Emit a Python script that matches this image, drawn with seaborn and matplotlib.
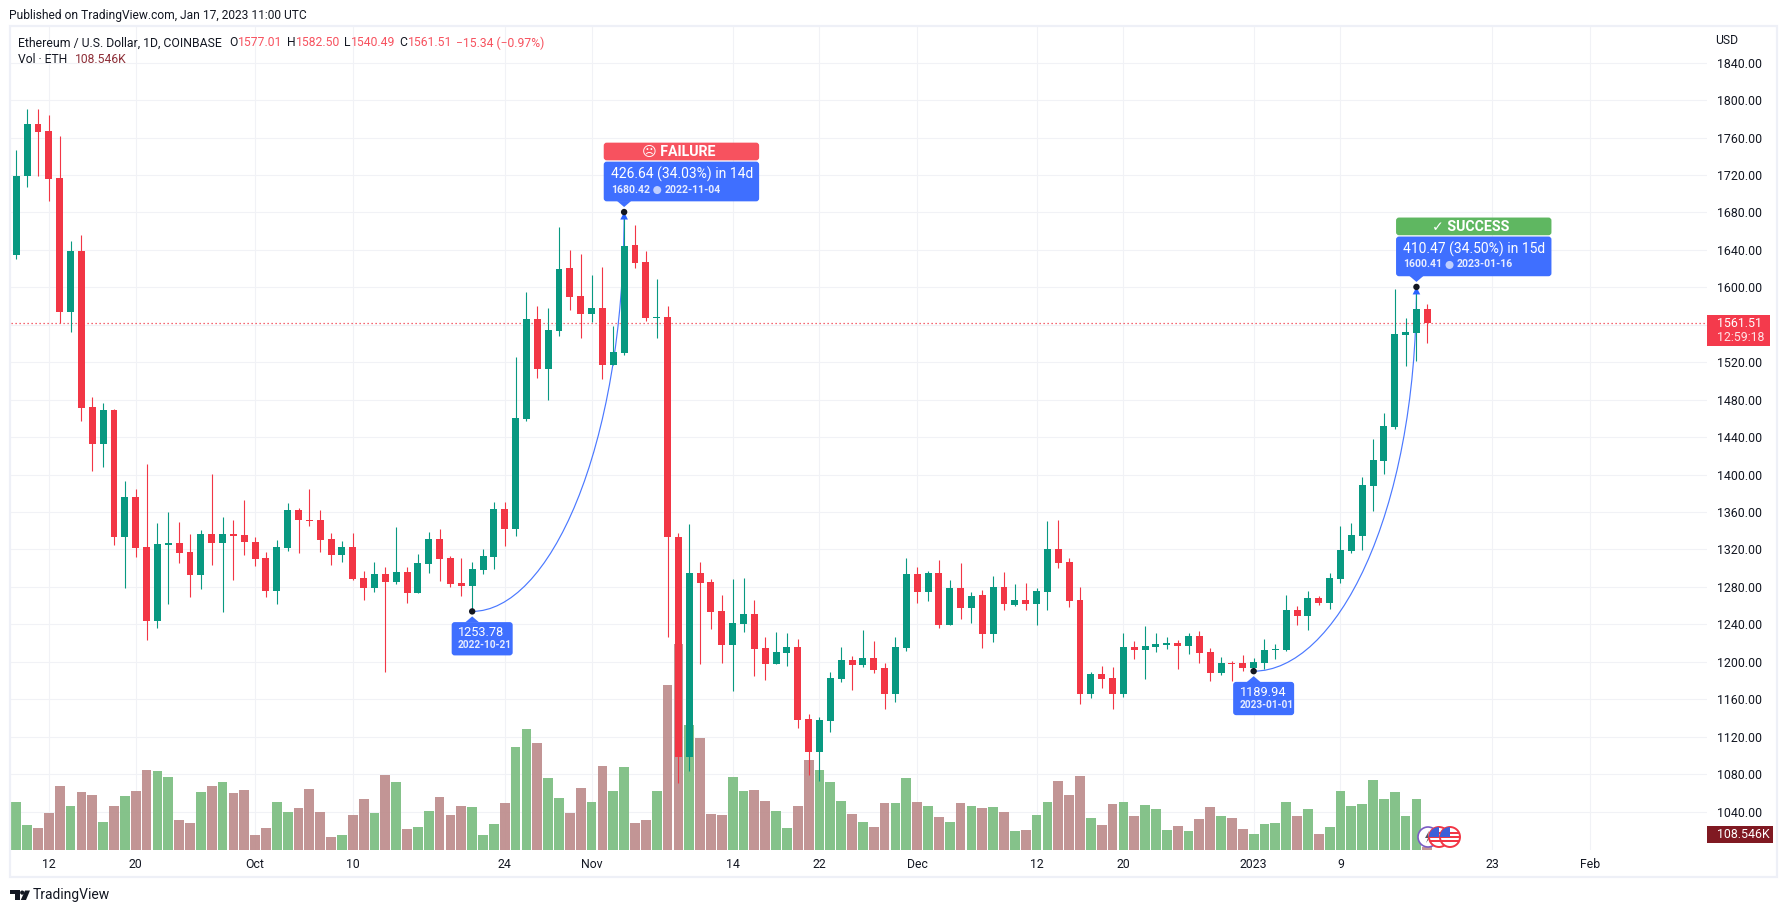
import pandas as pd
import seaborn as sns
import matplotlib.pyplot as plt
from matplotlib.patches import Circle, FancyBboxPatch, PathPatch, Polygon, Rectangle
from matplotlib.path import Path

# --- Data ---
start_date = '2022-09-09'
open_prices = [
    1634.6, 1719, 1774.5, 1767, 1717, 1573.7, 1639, 1472, 1432.6, 1469,
    1333, 1376, 1322.5, 1243.5, 1325, 1327, 1317, 1292.7, 1336.5, 1327,
    1336.5, 1335, 1328, 1311, 1275.6, 1321.5, 1362, 1351, 1351, 1331,
    1314, 1322.6, 1289.5, 1278.8, 1293.7, 1285, 1296, 1273.4, 1304.4, 1331,
    1311, 1284, 1281, 1298, 1312, 1363, 1342, 1459.4, 1566, 1512.8,
    1553.4, 1620.7, 1590.7, 1571.5, 1578, 1517, 1530, 1645, 1627, 1567,
    1568.7, 1333, 1098, 1294.8, 1285, 1254, 1218, 1240, 1251, 1214.7,
    1197.6, 1209, 1215.7, 1138.8, 1103.6, 1136.7, 1181.5, 1202, 1196.5, 1204,
    1193, 1165.5, 1214.7, 1293.7, 1274.5, 1294.8, 1239, 1278.8, 1257.4, 1271,
    1229.6, 1280, 1260.6, 1266, 1261.7, 1274.5, 1320, 1306.6, 1266, 1165.5,
    1187, 1182.6, 1165.5, 1215.7, 1212.5, 1215.7, 1218, 1220, 1216.8, 1227.5,
    1210.4, 1188, 1198.7, 1198.7, 1193.5, 1198.7, 1212.5, 1212.5, 1255, 1249,
    1268, 1262.8, 1288, 1318, 1334, 1388, 1414.5, 1451, 1549, 1551, 1577.01,
]
high_prices = [
    1746.7, 1790.5, 1790.5, 1784, 1761.6, 1649.5, 1656, 1482.8, 1476, 1470,
    1393, 1384.5, 1411, 1348, 1360, 1349, 1336.5, 1340.7, 1400.6, 1354.6,
    1351, 1372.8, 1333, 1317, 1330, 1369.6, 1364, 1384.5, 1362, 1337.5,
    1329, 1337.5, 1297, 1306.6, 1301, 1344, 1301, 1315, 1338.6, 1341.8,
    1313, 1311, 1306.6, 1320, 1370.6, 1370.6, 1525.6, 1595, 1580, 1578,
    1664.5, 1640, 1635.6, 1613, 1621.7, 1558.7, 1680.42, 1666.6, 1638.8, 1609,
    1580, 1337.5, 1347, 1306.6, 1288, 1271, 1288, 1289.5, 1266, 1226,
    1231.8, 1230.7, 1224, 1144, 1141, 1189, 1215.7, 1206, 1234, 1222,
    1198.7, 1226, 1311, 1301, 1297, 1308.7, 1287, 1305.5, 1274.5, 1276.6,
    1291.6, 1296, 1283, 1284, 1278.8, 1350, 1351, 1311, 1280, 1189,
    1195.4, 1194, 1230.7, 1222, 1238, 1230.7, 1226, 1223, 1230.7, 1233,
    1214.7, 1205, 1200.8, 1207, 1204, 1224, 1219, 1271, 1259.5, 1275.6,
    1270, 1294.8, 1345, 1348, 1397, 1438, 1466, 1598, 1567, 1600.41, 1582.5,
]
low_prices = [
    1630, 1707.5, 1719, 1692.6, 1561.5, 1552.6, 1457, 1403.8, 1408, 1324.7,
    1278.8, 1312, 1223, 1236, 1261.7, 1305.5, 1269, 1277.7, 1303, 1253,
    1287, 1314, 1302, 1269, 1261.7, 1318, 1316, 1345, 1317, 1303,
    1306.6, 1287, 1266, 1274.5, 1189, 1283, 1262.8, 1273.4, 1295, 1286,
    1280, 1270, 1253.78, 1293.7, 1299, 1323.6, 1334, 1457, 1503, 1479.6,
    1548, 1575.8, 1546, 1563, 1502, 1517, 1527.7, 1620.7, 1564, 1546,
    1226, 1070.4, 1083, 1197.6, 1235, 1198.7, 1168.7, 1231.8, 1184.8, 1180.5,
    1197.6, 1195.4, 1129, 1079, 1073, 1125, 1178, 1169.8, 1194, 1188,
    1149.5, 1157, 1211.5, 1262.8, 1265, 1236, 1239, 1245.7, 1241, 1214.7,
    1221, 1255, 1259.5, 1255, 1239, 1255, 1300, 1258.5, 1155, 1161,
    1172, 1149.5, 1162, 1203, 1181.5, 1210.4, 1213.6, 1192, 1208, 1198.7,
    1179.4, 1185.8, 1179.4, 1190, 1189.94, 1192, 1203, 1211.5, 1239, 1234,
    1260.6, 1256, 1284, 1316, 1319, 1361, 1400.6, 1449, 1516, 1521, 1540.49,
]
close_prices = [
    1719, 1774.5, 1766, 1716, 1573.7, 1638.8, 1471, 1432.6, 1469, 1333,
    1376, 1321.5, 1243.5, 1325.8, 1327, 1316, 1292.7, 1336.5, 1327, 1336.5,
    1334, 1328, 1310, 1275.6, 1322.6, 1362, 1351, 1350, 1330, 1314,
    1322.6, 1288, 1278.8, 1293.7, 1285, 1296, 1273.4, 1305.5, 1331, 1310,
    1283, 1281, 1299, 1313, 1363, 1342, 1460.4, 1566, 1512.8, 1554.4,
    1619.6, 1589.7, 1571.5, 1578, 1517, 1531, 1644, 1626, 1567, 1568.7,
    1333, 1098, 1294.8, 1284, 1253, 1218, 1241, 1251, 1213.6, 1197.6,
    1210.4, 1215.7, 1137.8, 1103.6, 1137.8, 1182.6, 1201.9, 1196.5, 1204, 1191,
    1165.5, 1215.7, 1293.7, 1274.5, 1294.8, 1239, 1278.8, 1257.4, 1270, 1229.6,
    1280, 1261.7, 1266, 1261.7, 1275.6, 1320, 1305.5, 1265, 1165.5, 1187,
    1181.5, 1165.5, 1215.7, 1212.5, 1216.8, 1219, 1220, 1216.8, 1227.5, 1209,
    1188, 1198.7, 1197.6, 1193, 1199.7, 1212.5, 1213.6, 1255, 1249, 1268,
    1262.8, 1289.5, 1319, 1335, 1389, 1415.5, 1452, 1550, 1552, 1577, 1561.51,
]
volume_k = [
    1920, 1000, 880, 1480, 2560, 1760, 2320, 2200, 1120, 1760,
    2160, 2360, 3200, 3160, 2920, 1200, 1080, 2320, 2560, 2720,
    2280, 2400, 600, 880, 1920, 1520, 1680, 2440, 1520, 520,
    600, 1400, 2040, 1480, 3000, 2720, 840, 920, 1560, 2120,
    1400, 1760, 1720, 600, 1040, 1880, 4120, 4840, 4280, 2880,
    2080, 1480, 2480, 1920, 3360, 2360, 3320, 1080, 1200, 2360,
    6600, 8240, 5000, 4480, 1440, 1400, 2920, 2360, 2400, 1960,
    1560, 880, 1760, 3600, 3200, 2720, 1960, 1440, 1120, 920,
    1880, 1880, 2880, 1920, 1760, 1320, 1120, 1880, 1760, 1680,
    1720, 1520, 760, 800, 1400, 1920, 2760, 2200, 2960, 1280,
    1000, 1840, 1920, 1360, 1800, 1640, 800, 960, 760, 1240,
    1720, 1360, 1280, 840, 640, 1040, 1080, 1920, 1360, 1640,
    640, 920, 2360, 1760, 1840, 2800, 2040, 2320, 1360, 2040, 108.546,
]
price_ticks = list(range(1040, 1880, 40))
tick_dates = ['2022-09-12', '2022-09-20', '2022-10-01', '2022-10-10', '2022-10-24',
              '2022-11-01', '2022-11-14', '2022-11-22', '2022-12-01', '2022-12-12',
              '2022-12-20', '2023-01-01', '2023-01-09', '2023-01-23', '2023-02-01']
tick_labels = ['12', '20', 'Oct', '10', '24', 'Nov', '14', '22', 'Dec', '12',
               '20', '2023', '9', '23', 'Feb']
last_price = 1561.51

# --- Style ---
sns.set_theme(style='white')
plt.rcParams['font.family'] = ['Roboto', 'DejaVu Sans']

GREEN = '#089981'
RED = '#F23645'
BLUE = '#3F6FFF'
TEXT = '#131722'
GRID = '#F1F2F6'
WIDTH, HEIGHT = 1787, 913

df = pd.DataFrame({'open': open_prices, 'high': high_prices, 'low': low_prices,
                   'close': close_prices, 'volume': volume_k})
df['idx'] = df.index
df['dir'] = ['up' if c >= o else 'down' for o, c in zip(df['open'], df['close'])]
start = pd.Timestamp(start_date)
tick_pos = [(pd.Timestamp(d) - start).days for d in tick_dates]

fig = plt.figure(figsize=(WIDTH / 100, HEIGHT / 100), dpi=100, facecolor='white')
pos = [11 / WIDTH, 1 - 850 / HEIGHT, 1696 / WIDTH, 823 / HEIGHT]
x_limits = (-0.49, 155.77)
y_limits = (998.9, 1878.1)

# --- Grid and tick labels ---
ax_grid = fig.add_axes(pos, zorder=1)
ax_grid.set_xlim(*x_limits)
ax_grid.set_ylim(*y_limits)
ax_grid.set_yticks(price_ticks)
ax_grid.set_yticklabels([f'{p:.2f}' for p in price_ticks], color=TEXT, fontsize=8.9,
                        va='center_baseline')
ax_grid.yaxis.tick_right()
ax_grid.set_xticks(tick_pos)
ax_grid.set_xticklabels(tick_labels, color=TEXT, fontsize=8.8)
ax_grid.tick_params(axis='x', length=0, pad=6)
ax_grid.tick_params(axis='y', length=0, pad=7)
ax_grid.grid(True, color=GRID, linewidth=0.8)
sns.despine(ax=ax_grid, left=True, right=True, top=True, bottom=True)

# --- Volume ---
ax_vol = fig.add_axes(pos, zorder=2, facecolor='none')
sns.barplot(data=df, x='idx', y='volume', hue='dir', native_scale=True, dodge=False,
            palette={'up': '#7FBF84', 'down': '#BF8F8F'}, width=0.9, legend=False,
            saturation=1, errorbar=None, linewidth=0, alpha=0.95, ax=ax_vol)
ax_vol.set_xlim(*x_limits)
ax_vol.set_ylim(0, 32920)
ax_vol.axis('off')

# --- Candles ---
ax = fig.add_axes(pos, zorder=3, facecolor='none')
ax.set_xlim(*x_limits)
ax.set_ylim(*y_limits)
ax.axis('off')
ax.axhline(last_price, color=RED, linewidth=0.9, linestyle=(0, (1, 2.2)), zorder=1)
colors = [GREEN if d == 'up' else RED for d in df['dir']]
ax.vlines(df['idx'], df['low'], df['high'], colors=colors, linewidth=0.8, zorder=4)
body_low = df[['open', 'close']].min(axis=1)
body_height = (df['close'] - df['open']).abs().clip(lower=1.5)
ax.bar(df['idx'], body_height, bottom=body_low, width=0.64, color=colors, linewidth=0, zorder=5)


def draw_curve(i0, i1):
    p0, p1 = low_prices[i0], high_prices[i1]
    dx, dy = i1 - i0, p1 - p0
    verts = [(i0, p0), (i0 + 0.5 * dx, p0), (i1, p0 + 0.4 * dy), (i1, p1)]
    codes = [Path.MOVETO, Path.CURVE4, Path.CURVE4, Path.CURVE4]
    ax.add_patch(PathPatch(Path(verts, codes), fill=False, edgecolor='#4A78FF',
                           linewidth=0.85, zorder=3))


draw_curve(42, 56)
draw_curve(114, 129)

# --- Overlay in pixel coordinates ---
ov = fig.add_axes([0, 0, 1, 1], zorder=4, facecolor='none')
ov.set_xlim(0, WIDTH)
ov.set_ylim(HEIGHT, 0)
ov.axis('off')


def anchor(i, price):
    x, y = ax.transData.transform((i, price))
    return x, HEIGHT - y


def round_box(x0, y0, x1, y1, color):
    ov.add_patch(FancyBboxPatch((x0, y0), x1 - x0, y1 - y0, facecolor=color, edgecolor='none',
                                boxstyle='round,pad=0,rounding_size=3'))


def dot(x, y):
    ov.add_patch(Circle((x, y), 3.2, facecolor='#131722', edgecolor='none', zorder=6))


def low_label(i):
    price, date = low_prices[i], (start + pd.Timedelta(days=i)).strftime('%Y-%m-%d')
    x, y = anchor(i, price)
    round_box(x - 20.5, y + 10.7, x + 40.5, y + 44, BLUE)
    ov.add_patch(Polygon([(x - 7, y + 11), (x, y + 5), (x + 7, y + 11)], facecolor=BLUE, edgecolor='none'))
    dot(x, y)
    ov.text(x - 14, y + 21.5, f'{price:.2f}', color='white', fontsize=9.2, va='center')
    ov.text(x - 14.5, y + 34, date, color='#E6ECFF', fontsize=7.3, fontweight='bold', va='center')


def high_label(i0, i1, title, title_color):
    price, date = high_prices[i1], (start + pd.Timedelta(days=i1)).strftime('%Y-%m-%d')
    base = low_prices[i0]
    move = price - base
    x, y = anchor(i1, price)
    left, right = x - 20.4, x + 135
    round_box(left, y - 69.4, right, y - 51.7, title_color)
    ov.text((left + right) / 2 - 3, y - 59.6, title, color='white', fontsize=10.2,
            fontweight='bold', ha='center', va='center')
    round_box(left, y - 50.4, right, y - 10.7, BLUE)
    ov.add_patch(Polygon([(x - 7, y - 11), (x, y - 5), (x + 7, y - 11)], facecolor=BLUE, edgecolor='none'))
    ov.add_patch(Polygon([(x - 3.8, y + 7.5), (x, y), (x + 3.8, y + 7.5)], facecolor='#2962FF',
                         edgecolor='none', zorder=5))
    dot(x, y)
    ov.text(left + 7, y - 37.5, f'{move:.2f} ({move / base * 100:.2f}%) in {i1 - i0}d',
            color='white', fontsize=10, va='center')
    ov.text(left + 7, y - 22.5, f'{price:.2f}', color='#E6ECFF', fontsize=7.6, fontweight='bold', va='center')
    ov.add_patch(Circle((left + 53.5, y - 22), 4, facecolor='#BFCEFF', edgecolor='none'))
    ov.text(left + 61, y - 22.5, date, color='#E6ECFF', fontsize=7.6, fontweight='bold', va='center')


low_label(42)
low_label(114)
high_label(42, 56, '☹ FAILURE', '#F7525F')
high_label(114, 129, '✓ SUCCESS', '#5FB761')

# frame and header
ov.add_patch(Rectangle((10, 26), 1767, 851, fill=False, edgecolor='#EEF0F7', linewidth=1.6))
ov.text(9, 15.5, 'Published on TradingView.com, Jan 17, 2023 11:00 UTC', color=TEXT, fontsize=8.65, va='center')
ov.text(18, 43, 'Ethereum / U.S. Dollar, 1D, COINBASE', color=TEXT, fontsize=8.8, va='center')
for x_lab, lab, x_val, val in [(229, 'O', 238, '1577.01'), (286.5, 'H', 296, '1582.50'),
                               (344, 'L', 351, '1540.49'), (399, 'C', 408, '1561.51')]:
    ov.text(x_lab, 43, lab, color=TEXT, fontsize=8.7, va='center')
    ov.text(x_val, 43, val, color='#F7525F', fontsize=8.7, va='center')
ov.text(456.5, 43, '−15.34 (−0.97%)', color='#F7525F', fontsize=8.7, va='center')
ov.text(18, 59.5, 'Vol · ETH', color=TEXT, fontsize=8.7, va='center')
ov.text(74.6, 59.5, '108.546K', color='#8E2F38', fontsize=8.7, va='center')
ov.text(1727, 40, 'USD', color=TEXT, fontsize=8.7, ha='center', va='center')

# last price and volume tags
ov.add_patch(Rectangle((1707, 315), 63, 31, facecolor='#F43A4C', edgecolor='none'))
ov.text(1717, 323.5, f'{last_price:.2f}', color='white', fontsize=8.9, va='center')
ov.text(1717, 337.5, '12:59:18', color='#FFE3E6', fontsize=8.9, va='center')
ov.add_patch(Rectangle((1707, 826), 66, 17, facecolor='#801922', edgecolor='none'))
ov.text(1717, 834.5, '108.546K', color='white', fontsize=8.9, va='center')


# event icons on the last bars
def flag(cx, cy, r=10):
    clip = Circle((cx, cy), r, facecolor='white', edgecolor='#F23645', linewidth=1.4, zorder=7)
    ov.add_patch(clip)
    for k in range(3):
        s = Rectangle((cx - r, cy - 5 + k * 4), 2 * r, 2, facecolor='#F23645', edgecolor='none', zorder=7.1)
        ov.add_patch(s)
        s.set_clip_path(clip)
    c = Rectangle((cx - r, cy - r), r, r, facecolor='#3D5FD9', edgecolor='none', zorder=7.2)
    ov.add_patch(c)
    c.set_clip_path(clip)


ov.add_patch(Circle((1428, 837), 10, facecolor='white', edgecolor='#7B5CC4', linewidth=1.2, zorder=6.5))
ov.add_patch(Polygon([(1429, 831), (1425, 838), (1428, 838), (1426, 843), (1431, 836), (1428, 836)],
                     facecolor='#555566', edgecolor='none', zorder=6.6))
flag(1439, 837)
flag(1450, 837)

# logo
ov.add_patch(Polygon([(10, 890.5), (19.5, 890.5), (19.5, 900), (14.5, 900), (14.5, 894.5), (10, 894.5)],
                     facecolor=TEXT, edgecolor='none'))
ov.add_patch(Circle((22.2, 892.6), 2.1, facecolor=TEXT, edgecolor='none'))
ov.add_patch(Polygon([(25, 890.5), (30, 890.5), (26, 900), (20.8, 900)], facecolor=TEXT, edgecolor='none'))
ov.text(33, 895.5, 'TradingView', color=TEXT, fontsize=10, va='center')

fig.savefig('out.png', dpi=100, facecolor='white')
